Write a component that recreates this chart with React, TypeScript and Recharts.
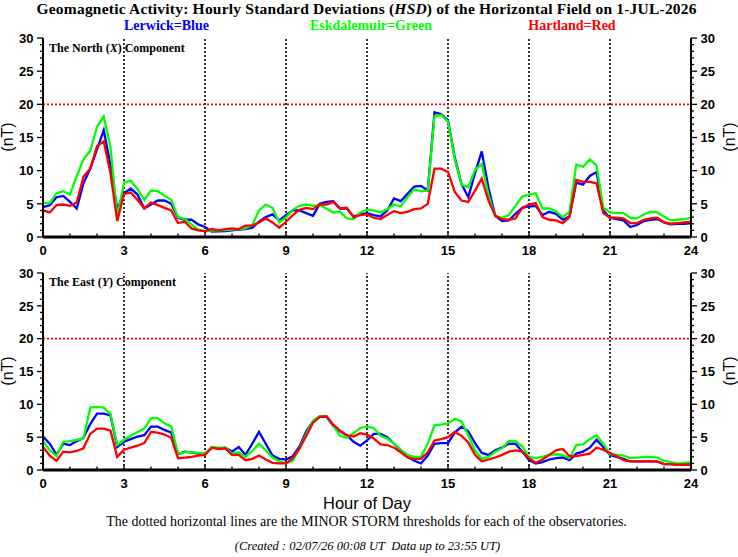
import React from 'react';
import { LineChart, Line, XAxis, YAxis, ReferenceLine } from 'recharts';

// ---------- categories / ticks ----------
const hours = [
  0, 0.25, 0.5, 0.75, 1, 1.25, 1.5, 1.75, 2, 2.25, 2.5, 2.75, 3, 3.25, 3.5, 3.75,
  4, 4.25, 4.5, 4.75, 5, 5.25, 5.5, 5.75, 6, 6.25, 6.5, 6.75, 7, 7.25, 7.5, 7.75,
  8, 8.25, 8.5, 8.75, 9, 9.25, 9.5, 9.75, 10, 10.25, 10.5, 10.75, 11, 11.25, 11.5, 11.75,
  12, 12.25, 12.5, 12.75, 13, 13.25, 13.5, 13.75, 14, 14.25, 14.5, 14.75, 15, 15.25, 15.5, 15.75,
  16, 16.25, 16.5, 16.75, 17, 17.25, 17.5, 17.75, 18, 18.25, 18.5, 18.75, 19, 19.25, 19.5, 19.75,
  20, 20.25, 20.5, 20.75, 21, 21.25, 21.5, 21.75, 22, 22.25, 22.5, 22.75, 23, 23.25, 23.5, 23.75, 24,
];
const xTicks = [0, 1, 2, 3, 4, 5, 6, 7, 8, 9, 10, 11, 12, 13, 14, 15, 16, 17, 18, 19, 20, 21, 22, 23, 24];
const yTicks = [0, 1, 2, 3, 4, 5, 6, 7, 8, 9, 10, 11, 12, 13, 14, 15, 16, 17, 18, 19, 20, 21, 22, 23, 24, 25, 26, 27, 28, 29, 30];
const hourGridLines = [3, 6, 9, 12, 15, 18, 21];
const stormThresholdX = 20;
const stormThresholdY = 20;

// ---------- North (X) component ----------
const northLerwick = [
  4.5, 4.8, 6.0, 6.2, 5.3, 4.3, 8.1, 10.3, 13.2, 16.1, 10.8, 4.2, 6.6, 7.3, 6.4, 4.3, 4.9, 5.5, 5.5, 5.0, 2.9, 2.6, 2.6, 1.9, 1.5,
  0.8, 0.85, 0.9, 1.0, 1.1, 1.2, 1.4, 2.3, 3.0, 3.4, 2.5, 3.3, 4.0, 4.0, 3.6, 3.2, 5.0, 5.3, 5.4, 4.3, 4.3, 3.1, 3.4, 3.6,
  3.3, 3.1, 4.0, 5.8, 5.4, 6.5, 7.6, 7.7, 7.0, 18.8, 18.5, 17.6, 12.0, 8.0, 6.0, 9.6, 12.9, 7.4, 3.2, 2.4, 2.5, 3.5, 4.4, 4.6,
  4.7, 3.3, 3.8, 3.5, 2.6, 3.1, 8.2, 7.9, 9.2, 9.8, 4.0, 2.9, 2.7, 2.5, 1.5, 1.8, 2.4, 2.6, 2.7, 2.2, 1.9, 2.0, 2.0, 2.1,
];
const northEskdalemuir = [
  5.1, 5.1, 6.6, 6.9, 6.4, 9.2, 11.7, 13.0, 16.6, 18.2, 13.5, 3.1, 8.2, 8.5, 7.2, 5.6, 7.0, 6.9, 6.2, 5.6, 3.0, 2.7, 1.9, 1.1, 0.9,
  0.95, 1.0, 1.05, 1.1, 1.2, 1.3, 1.8, 4.0, 4.9, 4.4, 2.2, 2.9, 4.1, 4.7, 4.9, 4.7, 4.8, 4.3, 3.7, 3.8, 2.8, 2.7, 3.7, 4.1,
  4.0, 3.7, 4.2, 4.9, 4.6, 6.0, 7.2, 6.9, 7.0, 18.2, 18.4, 17.4, 11.7, 7.9, 7.5, 10.1, 11.0, 6.3, 3.1, 2.9, 3.3, 4.7, 6.1, 6.4,
  6.6, 4.3, 4.3, 3.9, 3.0, 3.8, 10.9, 10.6, 11.7, 10.8, 4.4, 3.7, 3.6, 3.6, 2.9, 2.8, 3.4, 3.8, 3.7, 3.1, 2.5, 2.6, 2.7, 2.9,
];
const northHartland = [
  4.0, 3.7, 4.8, 4.9, 4.7, 5.2, 9.1, 10.3, 13.7, 14.4, 9.6, 2.4, 6.5, 6.7, 5.6, 4.3, 5.2, 4.8, 4.4, 4.0, 2.1, 2.3, 1.3, 1.0, 0.9,
  1.2, 1.0, 1.2, 1.3, 1.2, 1.7, 1.7, 2.2, 2.8, 2.2, 1.4, 2.3, 3.3, 4.1, 4.4, 4.2, 4.9, 4.9, 5.3, 4.3, 4.4, 3.0, 3.3, 3.4,
  2.9, 2.7, 3.3, 3.9, 3.6, 3.8, 4.2, 4.3, 5.0, 10.3, 10.3, 9.8, 6.8, 5.5, 5.3, 7.0, 8.8, 5.5, 3.2, 2.7, 2.6, 2.8, 4.4, 4.9,
  5.1, 3.0, 2.6, 2.5, 2.1, 3.0, 8.6, 8.3, 8.3, 8.1, 3.6, 2.9, 2.9, 2.8, 2.1, 2.1, 2.6, 2.8, 2.9, 2.2, 2.0, 2.1, 2.2, 2.3,
];

// ---------- East (Y) component ----------
const eastLerwick = [
  5.1, 4.0, 2.3, 4.0, 3.8, 4.4, 4.9, 7.0, 8.6, 8.6, 8.3, 3.5, 4.3, 4.7, 5.1, 5.3, 6.6, 6.6, 6.1, 5.7, 2.4, 2.8, 2.7, 2.5, 2.5,
  3.4, 3.3, 3.4, 2.8, 3.5, 2.3, 4.0, 5.8, 4.0, 2.2, 1.7, 1.6, 2.1, 3.6, 5.9, 7.4, 8.1, 8.1, 6.7, 5.9, 5.3, 4.3, 3.7, 4.5,
  5.5, 5.5, 5.0, 4.0, 3.0, 2.0, 1.4, 1.0, 2.2, 4.0, 4.1, 4.1, 5.7, 6.6, 5.9, 4.1, 2.6, 2.3, 3.0, 3.4, 4.0, 4.0, 2.8, 1.5,
  1.0, 1.2, 1.6, 1.8, 1.9, 1.5, 2.5, 2.8, 3.4, 4.6, 3.5, 2.3, 2.0, 1.7, 1.3, 1.3, 1.3, 1.3, 1.3, 0.9, 0.9, 0.8, 0.85, 0.9,
];
const eastEskdalemuir = [
  4.4, 3.0, 2.1, 4.3, 4.4, 4.6, 4.8, 9.5, 9.6, 9.5, 8.5, 3.8, 4.6, 5.2, 5.8, 6.3, 7.9, 7.9, 7.1, 6.6, 2.5, 2.7, 2.7, 2.6, 2.5,
  3.5, 3.4, 3.4, 2.5, 2.7, 2.0, 2.9, 4.0, 3.0, 1.9, 1.3, 1.0, 1.4, 3.3, 5.5, 7.5, 8.2, 8.2, 6.8, 5.2, 4.9, 5.6, 6.4, 6.6,
  6.4, 5.2, 4.8, 4.0, 3.1, 2.3, 2.0, 2.0, 4.0, 6.8, 6.9, 7.1, 7.8, 7.4, 5.3, 3.0, 1.7, 2.0, 2.8, 3.3, 4.4, 4.4, 3.6, 2.0,
  1.8, 2.0, 2.3, 2.4, 2.3, 1.8, 3.8, 3.9, 4.7, 5.3, 4.0, 2.4, 2.3, 2.2, 1.8, 1.9, 2.0, 2.0, 1.9, 1.4, 1.2, 1.0, 1.1, 1.2,
];
const eastHartland = [
  3.5, 2.2, 1.4, 2.8, 2.7, 2.9, 3.3, 5.5, 6.3, 6.3, 6.0, 2.0, 3.1, 3.4, 3.7, 4.1, 5.8, 5.7, 5.4, 4.9, 1.8, 1.9, 2.0, 2.2, 2.3,
  3.4, 3.2, 3.3, 2.3, 2.3, 1.5, 1.7, 2.2, 1.6, 1.1, 1.0, 1.0, 1.8, 3.3, 5.2, 7.2, 8.1, 8.2, 6.9, 6.0, 5.3, 5.1, 5.6, 5.4,
  4.8, 3.9, 3.8, 3.4, 2.7, 1.9, 1.7, 1.7, 2.7, 4.5, 4.7, 5.0, 5.8, 5.2, 4.2, 2.3, 1.3, 1.6, 1.9, 2.3, 2.8, 3.0, 2.8, 1.8,
  1.1, 1.6, 2.3, 3.0, 3.2, 2.1, 2.1, 2.3, 2.5, 3.4, 3.1, 2.6, 2.1, 1.5, 1.3, 1.3, 1.3, 1.3, 1.3, 0.9, 0.9, 0.8, 0.8, 0.8,
];

type Row = { h: number; lerwick: number; esk: number; hart: number };
const buildRows = (a: number[], b: number[], c: number[]): Row[] =>
  hours.map((h, i) => ({ h, lerwick: a[i], esk: b[i], hart: c[i] }));

const northRows = buildRows(northLerwick, northEskdalemuir, northHartland);
const eastRows = buildRows(eastLerwick, eastEskdalemuir, eastHartland);

const SANS = '"Liberation Sans", Arial, Helvetica, sans-serif';
const SERIF = '"Liberation Serif", "Times New Roman", serif';

const BottomTick = (props: any) => {
  const { x, y, payload } = props;
  const v = payload.value;
  const major = v % 3 === 0;
  return (
    <g>
      <line x1={x} x2={x} y1={y} y2={y - (major ? 5 : 3.5)} stroke="#000" strokeWidth={1.3} />
      {major && (
        <text x={x} y={y + 17.5} textAnchor="middle" fontFamily={SANS} fontWeight="bold" fontSize={13} fill="#000">
          {v}
        </text>
      )}
    </g>
  );
};

const TopTick = (props: any) => {
  const { x, y, payload } = props;
  const major = payload.value % 3 === 0;
  return <line x1={x} x2={x} y1={y} y2={y + (major ? 5 : 3.5)} stroke="#000" strokeWidth={1.3} />;
};

const LeftTick = (props: any) => {
  const { x, y, payload } = props;
  const v = payload.value;
  const major = v % 5 === 0;
  return (
    <g>
      <line x1={x} x2={x - (major ? 6 : 3)} y1={y} y2={y} stroke="#000" strokeWidth={1.3} />
      {major && (
        <text x={x - 9.5} y={y + 4.7} textAnchor="end" fontFamily={SANS} fontWeight="bold" fontSize={13} fill="#000">
          {v}
        </text>
      )}
    </g>
  );
};

const RightTick = (props: any) => {
  const { x, y, payload } = props;
  const v = payload.value;
  const major = v % 5 === 0;
  return (
    <g>
      <line x1={x} x2={x + (major ? 6 : 3)} y1={y} y2={y} stroke="#000" strokeWidth={1.3} />
      {major && (
        <text x={x + 9.5} y={y + 4.7} textAnchor="start" fontFamily={SANS} fontWeight="bold" fontSize={13} fill="#000">
          {v}
        </text>
      )}
    </g>
  );
};

function Panel({ top, height, data, threshold }: { top: number; height: number; data: Row[]; threshold: number }) {
  return (
    <div style={{ position: 'absolute', left: 0, top, width: 738, height }}>
      <LineChart width={738} height={height} data={data} margin={{ top: 38, right: 0, bottom: 0, left: 0 }}>
        <XAxis
          xAxisId="b"
          dataKey="h"
          type="number"
          domain={[0, 24]}
          ticks={xTicks}
          interval={0}
          allowDataOverflow
          height={20}
          tickSize={0}
          tickMargin={0}
          tickLine={false}
          tick={BottomTick}
          axisLine={{ stroke: '#000', strokeWidth: 3 }}
        />
        <XAxis
          xAxisId="t"
          orientation="top"
          dataKey="h"
          type="number"
          domain={[0, 24]}
          ticks={xTicks}
          interval={0}
          allowDataOverflow
          height={0}
          tickSize={0}
          tickMargin={0}
          tickLine={false}
          tick={TopTick}
          axisLine={{ stroke: '#000', strokeWidth: 3 }}
        />
        <YAxis
          yAxisId="l"
          type="number"
          domain={[0, 30]}
          ticks={yTicks}
          interval={0}
          allowDataOverflow
          width={43}
          tickSize={0}
          tickMargin={0}
          tickLine={false}
          tick={LeftTick}
          axisLine={{ stroke: '#000', strokeWidth: 2 }}
        />
        <YAxis
          yAxisId="r"
          orientation="right"
          type="number"
          domain={[0, 30]}
          ticks={yTicks}
          interval={0}
          allowDataOverflow
          width={47}
          tickSize={0}
          tickMargin={0}
          tickLine={false}
          tick={RightTick}
          axisLine={{ stroke: '#000', strokeWidth: 2 }}
        />
        {hourGridLines.map((h) => (
          <ReferenceLine key={h} xAxisId="b" yAxisId="l" x={h} stroke="#000" strokeWidth={1.6} strokeDasharray="2 2" />
        ))}
        <ReferenceLine xAxisId="b" yAxisId="l" y={threshold} stroke="#ff0000" strokeWidth={1.6} strokeDasharray="2 2" />
        <Line xAxisId="b" yAxisId="l" type="linear" dataKey="lerwick" stroke="#0000ff" strokeWidth={2.3} dot={false} isAnimationActive={false} />
        <Line xAxisId="b" yAxisId="l" type="linear" dataKey="esk" stroke="#00ff00" strokeWidth={2.3} dot={false} isAnimationActive={false} />
        <Line xAxisId="b" yAxisId="l" type="linear" dataKey="hart" stroke="#ff0000" strokeWidth={2.3} dot={false} isAnimationActive={false} />
      </LineChart>
    </div>
  );
}

export default function App() {
  return (
    <div style={{ position: 'absolute', left: 0, top: 0, width: 738, height: 557, background: '#fff', overflow: 'hidden' }}>
      <Panel top={0} height={257} data={northRows} threshold={stormThresholdX} />
      <Panel top={235} height={255} data={eastRows} threshold={stormThresholdY} />
      <svg width={738} height={557} style={{ position: 'absolute', left: 0, top: 0, pointerEvents: 'none' }}>
        <text x={366.5} y={14} textAnchor="middle" fontFamily={SERIF} fontWeight="bold" fontSize={15.5} textLength={660} lengthAdjust="spacing" fill="#000">
          Geomagnetic Activity: Hourly Standard Deviations (<tspan fontStyle="italic">HSD</tspan>) of the Horizontal Field on 1-JUL-2026
        </text>
        <text x={166.5} y={29.5} textAnchor="middle" fontFamily={SERIF} fontWeight="bold" fontSize={14} fill="#0000ff">Lerwick=Blue</text>
        <text x={371} y={29.5} textAnchor="middle" fontFamily={SERIF} fontWeight="bold" fontSize={14} fill="#00ff00">Eskdalemuir=Green</text>
        <text x={572} y={29.5} textAnchor="middle" fontFamily={SERIF} fontWeight="bold" fontSize={14} fill="#ff0000">Hartland=Red</text>

        <text x={49} y={52} fontFamily={SERIF} fontWeight="bold" fontSize={12} fill="#000">
          The North (<tspan fontStyle="italic">X</tspan>) Component
        </text>
        <text x={49} y={286} fontFamily={SERIF} fontWeight="bold" fontSize={12} fill="#000">
          The East (<tspan fontStyle="italic">Y</tspan>) Component
        </text>

        <text transform="translate(13,137) rotate(-90)" textAnchor="middle" fontFamily={SANS} fontSize={16} fill="#000">(nT)</text>
        <text transform="translate(734.5,137) rotate(-90)" textAnchor="middle" fontFamily={SANS} fontSize={16} fill="#000">(nT)</text>
        <text transform="translate(13,371) rotate(-90)" textAnchor="middle" fontFamily={SANS} fontSize={16} fill="#000">(nT)</text>
        <text transform="translate(734.5,371) rotate(-90)" textAnchor="middle" fontFamily={SANS} fontSize={16} fill="#000">(nT)</text>

        <text x={367} y={509} textAnchor="middle" fontFamily={SANS} fontSize={16.5} fill="#000">Hour of Day</text>
        <text x={366.5} y={526} textAnchor="middle" fontFamily={SERIF} fontSize={14} fill="#000">
          The dotted horizontal lines are the MINOR STORM thresholds for each of the observatories.
        </text>
        <text x={367.5} y={550} textAnchor="middle" fontFamily={SERIF} fontStyle="italic" fontSize={12.5} fill="#000">
          {'(Created : 02/07/26 00:08 UT\u00a0\u00a0Data up to 23:55 UT)'}
        </text>
      </svg>
    </div>
  );
}
